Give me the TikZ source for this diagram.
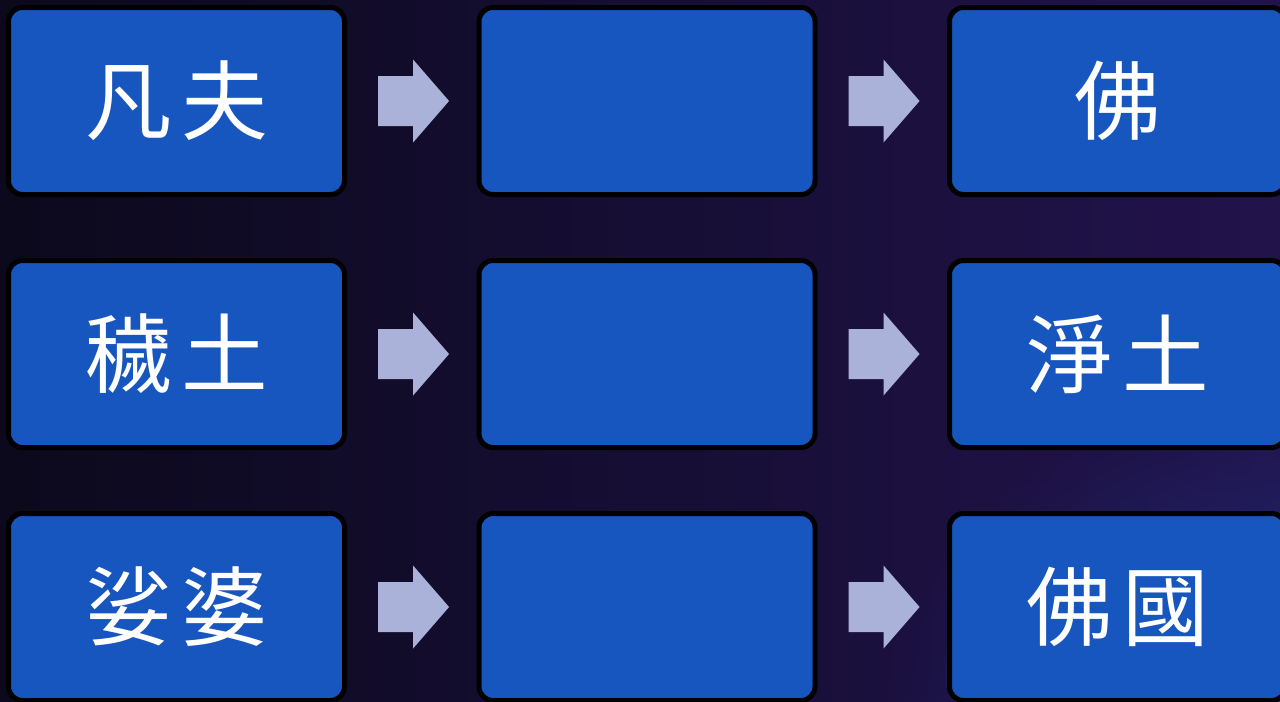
\documentclass[tikz,border=0pt]{standalone}
\usepackage{fontspec}
\newfontfamily\cjk{Noto Sans CJK TC}
\usetikzlibrary{calc,fadings}
\tikzfading[name=glowfade, inner color=transparent!0, outer color=transparent!100]
\definecolor{bgA}{HTML}{0C091C}
\definecolor{bgB}{HTML}{160E34}
\definecolor{bgC}{HTML}{22134C}
\definecolor{glow}{HTML}{1E2E78}
\definecolor{boxblue}{HTML}{1756BE}
\definecolor{arrowc}{HTML}{AAB2DA}
\newcommand{\gap}{\kern 7pt}
\tikzset{
  card/.style={draw=black, line width=3.75pt, fill=boxblue, rounded corners=10.5pt,
    minimum width=252pt, minimum height=140.25pt, inner sep=0pt,
    text=white, font=\cjk\fontsize{65}{65}\selectfont},
  blockarrow/.style={fill=arrowc, draw=none}
}
\begin{document}
\begin{tikzpicture}[x=0.75pt,y=-0.75pt]
\useasboundingbox (0,0) rectangle (1280,701);
\shade[left color=bgA, right color=bgC, middle color=bgB] (0,0) rectangle (1280,701);
\begin{scope}
\clip (0,0) rectangle (1280,701);
\fill[glow, path fading=glowfade, opacity=0.9] (1300,720) ellipse [x radius=420, y radius=330];
\end{scope}
% boxes
\node[card] (l1) at (176.5,101) {凡\gap 夫};
\node[card] (m1) at (647,101) {};
\node[card] (r1) at (1117.5,101) {佛};
\node[card] (l2) at (176.5,354) {穢\gap 土};
\node[card] (m2) at (647,354) {};
\node[card] (r2) at (1117.5,354) {淨\gap 土};
\node[card] (l3) at (176.5,607) {娑\gap 婆};
\node[card] (m3) at (647,607) {};
\node[card] (r3) at (1117.5,607) {佛\gap 國};
% arrows
\foreach \i in {1,2,3}{
  \coordinate (al\i) at ($(l\i.east)!0.5!(m\i.west)$);
  \coordinate (ar\i) at ($(m\i.east)!0.5!(r\i.west)$);
  \foreach \c in {al\i,ar\i}{
    \fill[blockarrow] (\c) ++(-33.7,-25) -- ++(35,0) -- ++(0,-16.5) -- ++(36,41.5)
      -- ++(-36,41.5) -- ++(0,-16.5) -- ++(-35,0) -- cycle;
  }
}
\end{tikzpicture}
\end{document}
